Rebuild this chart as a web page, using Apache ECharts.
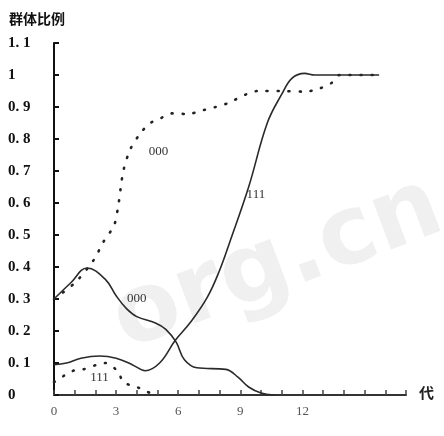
<!DOCTYPE html>
<html>
<head>
<meta charset="utf-8">
<script src="https://cdn.jsdelivr.net/npm/echarts@6/dist/echarts.min.js"></script>
<style>
html,body{margin:0;padding:0;background:#fff;}
#main{width:444px;height:436px;}
</style>
</head>
<body>
<div id="main"></div>
<script>
// 数据：横轴为代数，纵轴为群体比例
var yTicks = ['0', '0. 1', '0. 2', '0. 3', '0. 4', '0. 5', '0. 6', '0. 7', '0. 8', '0. 9', '1', '1. 1'];
var xTicks = [0, 3, 6, 9, 12];

var dot000 = [[0,0.3],[1.0,0.35],[1.9,0.42],[2.4,0.48],[2.9,0.53],[3.1,0.59],[3.35,0.70],[3.7,0.77],[4.2,0.82],
	[4.65,0.85],[5.15,0.865],[5.7,0.88],[6.45,0.878],[7.2,0.89],[7.8,0.90],[8.4,0.912],[9.3,0.94],[9.85,0.95],
	[10.9,0.95],[12.1,0.948],[12.7,0.955],[13.4,0.975],[13.8,1.0],[15.7,1.0]];
var line111 = [[0,0.095],[0.6,0.1],[1.3,0.115],[2.2,0.122],[3.0,0.115],[3.8,0.094],[4.4,0.076],[5.1,0.1],
	[5.85,0.17],[6.6,0.228],[7.4,0.305],[8.0,0.39],[8.5,0.48],[9.4,0.65],[10.3,0.85],[11.0,0.94],[11.5,0.99],
	[12.1,1.005],[12.6,1.0],[15.7,1.0]];
var line000 = [[0,0.3],[0.8,0.35],[1.6,0.397],[2.5,0.36],[3.0,0.31],[3.5,0.27],[4.0,0.245],[4.9,0.225],
	[5.4,0.205],[5.9,0.165],[6.3,0.11],[6.9,0.085],[8.3,0.08],[8.9,0.055],[9.4,0.025],[10.0,0.006],[10.6,0]];
var dot111 = [[0,0.04],[0.9,0.075],[1.4,0.08],[2.1,0.095],[2.5,0.1],[3.1,0.072],[3.35,0.04],[4.0,0.025],[4.5,0.01],[5,0]];

var curveLabels = [
	{text:'000', x:5.05, y:0.76},
	{text:'111', x:9.75, y:0.625},
	{text:'000', x:4.0, y:0.30},
	{text:'111', x:2.2, y:0.053}
];

var myChart = echarts.init(document.getElementById('main'));

var solidStyle = {color:'#2a2a2a', width:1.6};
var dotStyle = {color:'#222', width:2.6, type:[1,10], cap:'round'};

var option = {
	animation : false,
	grid : {
		left : 54,
		right : 38,
		top : 43,
		bottom : 41
	},
	xAxis : {
		type : 'value',
		min : 0,
		max : 17,
		interval : 1,
		axisLine : {lineStyle : {color:'#333', width:2}},
		axisTick : {inside:true, length:5, lineStyle:{color:'#444', width:1.5}},
		splitLine : {show:false},
		axisLabel : {
			margin : 10,
			color : '#555',
			fontFamily : 'Liberation Serif',
			fontSize : 13,
			formatter : function(v) {
				return xTicks.indexOf(v) >= 0 ? String(v) : '';
			}
		}
	},
	yAxis : {
		type : 'value',
		min : 0,
		max : 1.1,
		interval : 0.1,
		axisLine : {show:true, lineStyle : {color:'#111', width:2}},
		axisTick : {show:true, inside:true, length:5, lineStyle:{color:'#111', width:2}},
		splitLine : {show:false},
		axisLabel : {
			align : 'left',
			margin : 46,
			color : '#111',
			fontFamily : 'Liberation Serif',
			fontWeight : 'bold',
			fontSize : 15,
			formatter : function(v) {
				return yTicks[Math.round(v * 10)];
			}
		}
	},
	graphic : [
		{type:'text', left:100, top:160, rotation:0.36, z:-10,
			style:{text:'org.cn', fill:'#f0f0f0', font:'bold 96px "DejaVu Sans"'}},
		{type:'text', left:9, top:12, style:{text:'群体比例', fill:'#111', font:'bold 14px "Noto Sans CJK SC"'}},
		{type:'text', left:419, top:385, style:{text:'代', fill:'#222', font:'bold 15px "Noto Sans CJK SC"'}}
	],
	series : [
		{name:'000虚', type:'line', data:dot000, smooth:0.3, symbol:'none', lineStyle:dotStyle, z:3},
		{name:'111实', type:'line', data:line111, smooth:0.4, symbol:'none', lineStyle:solidStyle, z:3},
		{name:'000实', type:'line', data:line000, smooth:0.4, symbol:'none', lineStyle:solidStyle, z:3},
		{name:'111虚', type:'line', data:dot111, smooth:0.3, symbol:'none', lineStyle:dotStyle, z:3}
	]
};
myChart.setOption(option);

// 曲线标注
var g = option.graphic.slice();
curveLabels.forEach(function(item) {
	var p = myChart.convertToPixel({gridIndex:0}, [item.x, item.y]);
	g.push({type:'text', x:p[0], y:p[1], style:{text:item.text, fill:'#333',
		font:'13px "Liberation Serif"', align:'center', verticalAlign:'middle'}});
});
myChart.setOption({graphic:g});
</script>
</body>
</html>
